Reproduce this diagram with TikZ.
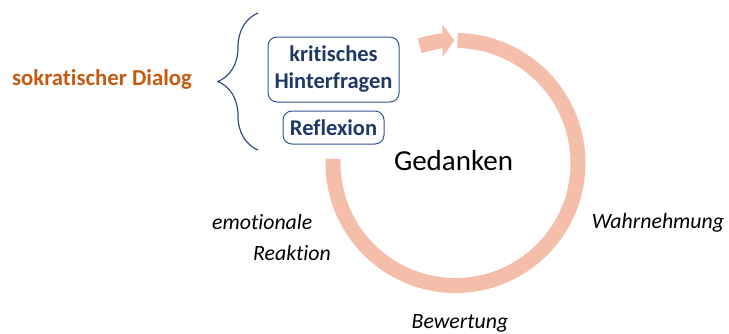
\documentclass[tikz,border=0pt]{standalone}
\usepackage{fontspec}
\setmainfont{Carlito}[Ligatures=NoCommon]
\usetikzlibrary{positioning,decorations.pathreplacing,arrows.meta}
\definecolor{ringcol}{RGB}{244,190,170}
\definecolor{navy}{RGB}{31,56,100}
\definecolor{boxline}{RGB}{47,85,151}
\definecolor{bracecol}{RGB}{52,78,130}
\definecolor{dialogorange}{RGB}{197,90,17}
\tikzset{
  schritt/.style={font=\fontsize{21.8}{31}\selectfont\itshape, inner sep=0pt},
  frage/.style={draw=boxline, line width=1pt, rounded corners=9pt, text=navy,
    font=\fontsize{22.5}{27}\selectfont\bfseries, align=center, inner sep=2pt},
}

\begin{document}
\begin{tikzpicture}[x=1pt,y=1pt]
    \useasboundingbox (0,0) rectangle (729,-333);
    \coordinate (mitte) at (455.5,-163);
    % Kreislauf um die Gedanken
    \draw [ringcol, line width=15pt]
      ([shift={(89:122.5pt)}]mitte) arc [start angle=89, end angle=-182, radius=122.5pt];
    \draw [ringcol, line width=15pt, -{Triangle[width=32pt,length=12pt]}]
      ([shift={(107:122.5pt)}]mitte) arc [start angle=107, end angle=90.5, radius=122.5pt];
    \node [frage, minimum width=131pt, minimum height=65pt] (hinterfragen)
      at (333.5,-69.5) {kritisches\\Hinterfragen};
    \node [frage, minimum width=101pt, minimum height=33pt, below=8pt of hinterfragen]
      (reflexion) {Reflexion};
    \coordinate (klammer unten) at (258,-150);
    \coordinate (klammer oben) at (258,-13);
    \draw [bracecol, line width=1.2pt, decorate, decoration={brace, amplitude=40pt}]
      (klammer unten) -- (klammer oben);
    \node [text=dialogorange, font=\fontsize{22.8}{27}\selectfont\bfseries, anchor=base]
      (dialog) at (102,-85) {sokratischer Dialog};
    \node [font=\fontsize{29}{34}\selectfont, anchor=base] (gedanken) at (453.5,-170) {Gedanken};
    \node [schritt, anchor=base] (wahrnehmung) at (658,-228) {Wahrnehmung};
    \node [schritt, anchor=base] (bewertung) at (460,-328) {Bewertung};
    \node [schritt, align=left, anchor=north west] (reaktion)
      at (212,-214) {emotionale\\\hspace*{41pt}Reaktion};
\end{tikzpicture}
\end{document}
